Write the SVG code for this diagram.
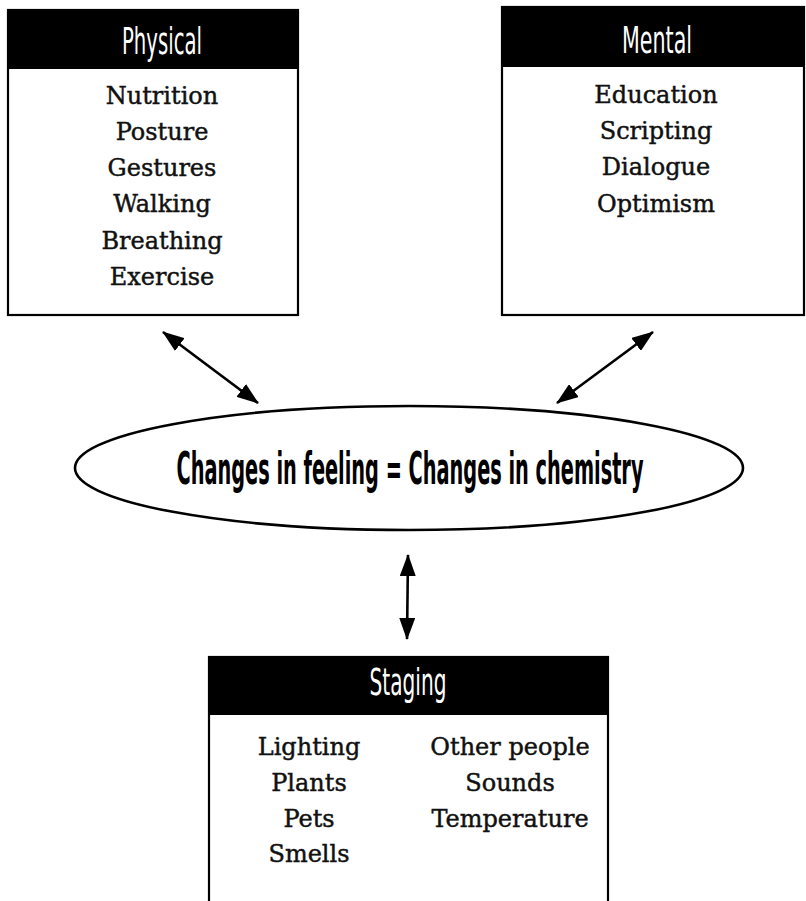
<svg xmlns="http://www.w3.org/2000/svg" width="806" height="901" viewBox="0 0 806 901">
<style>
.box{fill:#fff;stroke:#000;stroke-width:2.2}
.hdr{fill:#000}
.ttl{font-family:"DejaVu Sans Condensed","DejaVu Sans","Liberation Sans",sans-serif;font-size:38px;fill:#fff;text-anchor:middle}
.item{font-family:"DejaVu Serif","Liberation Serif",serif;font-size:24px;fill:#111;stroke:#111;stroke-width:0.45;text-anchor:middle}
.main{font-family:"DejaVu Sans Condensed","DejaVu Sans","Liberation Sans",sans-serif;font-weight:bold;font-size:45px;fill:#000;text-anchor:middle}
.conn{stroke:#000;stroke-width:2.6;fill:none;marker-start:url(#ah);marker-end:url(#ah)}
</style>
<defs>
<marker id="ah" viewBox="0 0 22 16" refX="21" refY="8" markerUnits="userSpaceOnUse" markerWidth="22" markerHeight="16" orient="auto-start-reverse">
<path d="M0,0 L22,8 L0,16 z" fill="#000"/>
</marker>
</defs>
<rect width="806" height="901" fill="#fff"/>
<g id="physical">
<rect class="box" x="8" y="10" width="290" height="305"/>
<rect class="hdr" x="8" y="10" width="290" height="59"/>
<text class="ttl" x="162" y="54" textLength="80" lengthAdjust="spacingAndGlyphs">Physical</text>
<text class="item" x="162" y="104">Nutrition</text>
<text class="item" x="162" y="140">Posture</text>
<text class="item" x="162" y="176">Gestures</text>
<text class="item" x="162" y="212">Walking</text>
<text class="item" x="162" y="249">Breathing</text>
<text class="item" x="162" y="285">Exercise</text>
</g>
<g id="mental">
<rect class="box" x="502" y="7" width="302" height="308"/>
<rect class="hdr" x="502" y="7" width="302" height="60"/>
<text class="ttl" x="657" y="53" textLength="70" lengthAdjust="spacingAndGlyphs">Mental</text>
<text class="item" x="656" y="103">Education</text>
<text class="item" x="656" y="139">Scripting</text>
<text class="item" x="656" y="175">Dialogue</text>
<text class="item" x="656" y="212">Optimism</text>
</g>
<g id="center">
<ellipse cx="409" cy="468" rx="334" ry="62" fill="#fff" stroke="#000" stroke-width="2.6"/>
<text class="main" x="410" y="484" textLength="467" lengthAdjust="spacingAndGlyphs">Changes in feeling = Changes in chemistry</text>
</g>
<g id="staging">
<rect class="box" x="209" y="657" width="399" height="260"/>
<rect class="hdr" x="209" y="657" width="399" height="58"/>
<text class="ttl" x="408" y="695" textLength="77" lengthAdjust="spacingAndGlyphs">Staging</text>
<text class="item" x="309" y="755">Lighting</text>
<text class="item" x="309" y="791">Plants</text>
<text class="item" x="309" y="827">Pets</text>
<text class="item" x="309" y="862">Smells</text>
<text class="item" x="510" y="755">Other people</text>
<text class="item" x="510" y="791">Sounds</text>
<text class="item" x="510" y="827">Temperature</text>
</g>
<g id="connectors">
<line class="conn" x1="163" y1="332" x2="258" y2="403"/>
<line class="conn" x1="653" y1="332" x2="557" y2="403"/>
<line class="conn" x1="408" y1="555" x2="407" y2="639"/>
</g>
</svg>
